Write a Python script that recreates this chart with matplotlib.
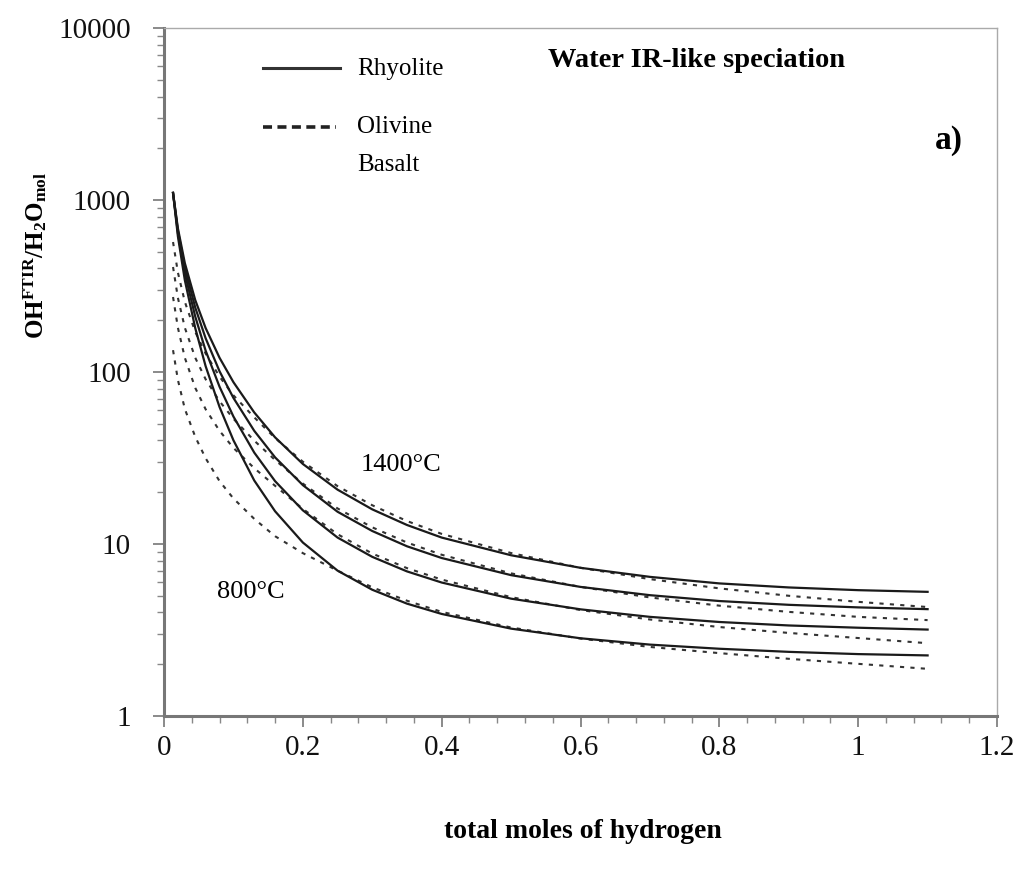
import matplotlib
matplotlib.use("Agg")
import matplotlib.pyplot as plt
from matplotlib.ticker import MultipleLocator, LogLocator, NullFormatter, FixedLocator, FixedFormatter

plt.rcParams['font.family'] = ['Liberation Serif', 'DejaVu Serif']
plt.rcParams['mathtext.fontset'] = 'custom'
plt.rcParams['mathtext.rm'] = 'Liberation Serif'
plt.rcParams['mathtext.bf'] = 'Liberation Serif:bold'

# total moles of hydrogen
h_tot = [0.013, 0.02, 0.03, 0.045, 0.06, 0.08, 0.1, 0.13, 0.16, 0.2, 0.25,
         0.3, 0.35, 0.4, 0.5, 0.6, 0.7, 0.8, 0.9, 1.0, 1.1]

# rhyolite, OH/H2Omol ratio
rhy_1400 = [1100, 685, 430, 262, 180, 121, 87.3, 58.2, 41.7, 29.2, 20.7,
            15.9, 12.9, 10.9, 8.6, 7.27, 6.44, 5.9, 5.59, 5.39, 5.27]
rhy_1200 = [1100, 665, 404, 237, 157, 101, 70.7, 45.5, 31.9, 22.0, 15.4,
            11.9, 9.7, 8.29, 6.59, 5.63, 5.04, 4.66, 4.43, 4.28, 4.18]
rhy_1000 = [1100, 643, 375, 210, 133, 82.1, 55.1, 34.0, 23.2, 15.7, 10.9,
            8.42, 6.93, 5.97, 4.81, 4.17, 3.77, 3.52, 3.36, 3.26, 3.18]
rhy_800 = [1100, 615, 342, 180, 108, 62.6, 40.1, 23.4, 15.5, 10.2, 7.0,
           5.42, 4.5, 3.92, 3.22, 2.83, 2.60, 2.46, 2.36, 2.29, 2.25]

# olivine basalt
bas_1400 = [570, 379, 256, 171, 128, 94, 73.2, 54.5, 41.3, 30.1, 21.7,
            16.8, 13.6, 11.45, 8.86, 7.27, 6.25, 5.52, 5.0, 4.61, 4.3]
bas_1200 = [408, 270, 181, 121, 90.7, 67.6, 53.5, 39.9, 30.8, 22.45, 16.1,
            12.5, 10.2, 8.66, 6.75, 5.63, 4.89, 4.38, 4.03, 3.77, 3.61]
bas_1000 = [273, 181, 121, 80.9, 60.7, 45.5, 36.2, 27.6, 21.8, 16.0, 11.4,
            8.8, 7.24, 6.21, 4.91, 4.13, 3.64, 3.29, 3.04, 2.84, 2.65]
bas_800 = [134, 90, 61, 42, 31.5, 23.2, 18.4, 14.0, 11.1, 8.85, 7.0,
           5.6, 4.68, 4.03, 3.27, 2.82, 2.52, 2.32, 2.15, 2.01, 1.88]

rhyolite = [rhy_1400, rhy_1200, rhy_1000, rhy_800]
basalt = [bas_1400, bas_1200, bas_1000, bas_800]

x_ticks = [0, 0.2, 0.4, 0.6, 0.8, 1.0, 1.2]
x_labels = ["0", "0.2", "0.4", "0.6", "0.8", "1", "1.2"]
y_ticks = [1, 10, 100, 1000, 10000]
y_labels = ["1", "10", "100", "1000", "10000"]

fig = plt.figure(figsize=(10.27, 8.77), dpi=100)
ax = fig.add_axes([0.1597, 0.1836, 0.8111, 0.7844])

for y in basalt:
    ax.plot(h_tot, y, color="#333333", lw=1.5, linestyle=(0, (2, 3)))
for y in rhyolite:
    ax.plot(h_tot, y, color="#1a1a1a", lw=1.6)

ax.set_yscale("log")
ax.set_xlim(0, 1.2)
ax.set_ylim(1, 10000)

ax.xaxis.set_major_locator(FixedLocator(x_ticks))
ax.xaxis.set_major_formatter(FixedFormatter(x_labels))
ax.xaxis.set_minor_locator(MultipleLocator(0.04))
ax.yaxis.set_major_locator(FixedLocator(y_ticks))
ax.yaxis.set_major_formatter(FixedFormatter(y_labels))
ax.yaxis.set_minor_locator(LogLocator(base=10, subs=range(2, 10)))
ax.yaxis.set_minor_formatter(NullFormatter())

ax.tick_params(which="major", direction="out", length=8, width=1.2,
               color="#777777", labelsize=21, labelcolor="#111111")
ax.tick_params(which="minor", direction="out", length=5, width=1,
               color="#888888")
ax.tick_params(axis="y", which="major", pad=16)
ax.tick_params(axis="x", which="major", pad=6)

for side in ["left", "bottom"]:
    ax.spines[side].set_color("#777777")
    ax.spines[side].set_linewidth(2.2)
for side in ["top", "right"]:
    ax.spines[side].set_color("#aaaaaa")
    ax.spines[side].set_linewidth(1)

# legend drawn by hand so the dashed line sits next to the first label line
ax.plot([0.119, 0.211], [0.942, 0.942], transform=ax.transAxes,
        color="#333333", lw=2.2)
ax.plot([0.119, 0.206], [0.856, 0.856], transform=ax.transAxes,
        color="#222222", lw=2.6, linestyle=(0, (2.5, 1.5)))
ax.text(0.232, 0.940, "Rhyolite", transform=ax.transAxes, fontsize=18,
        va="center", ha="left")
ax.text(0.232, 0.856, "Olivine", transform=ax.transAxes, fontsize=18,
        va="center", ha="left")
ax.text(0.232, 0.801, "Basalt", transform=ax.transAxes, fontsize=18,
        va="center", ha="left")

ax.text(0.461, 0.953, "Water IR-like speciation", transform=ax.transAxes,
        fontsize=20.5, fontweight="bold", va="center", ha="left")
ax.text(0.942, 0.836, "a)", transform=ax.transAxes, fontsize=24,
        fontweight="bold", va="center", ha="center")

ax.text(0.3415, 28.8, "1400°C", fontsize=19, va="center", ha="center")
ax.text(0.125, 5.26, "800°C", fontsize=19, va="center", ha="center")

fig.text(0.034, 1 - 255 / 877, r"$\mathbf{OH^{FTIR}/H_2O_{mol}}$",
         rotation=90, fontsize=18, va="center", ha="center")
fig.text(583 / 1027, 1 - 832 / 877, "total moles of hydrogen",
         fontsize=20, fontweight="bold", va="center", ha="center")

fig.savefig("out.png", dpi=100, facecolor="white")
